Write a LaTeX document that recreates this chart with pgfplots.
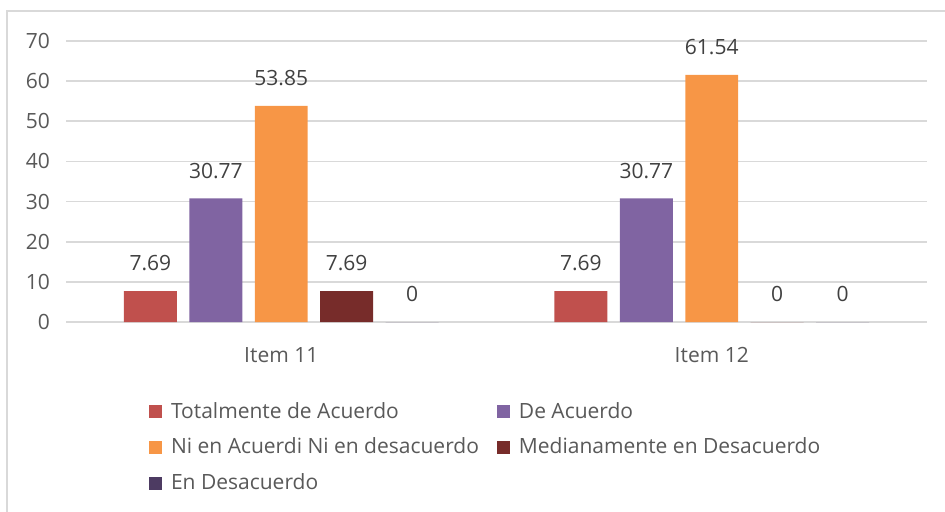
\documentclass[border=0pt]{standalone}
\usepackage{pgfplots}
\pgfplotsset{compat=1.18}
\usepackage{fontspec}
\setmainfont{Open Sans}
\definecolor{cTot}{HTML}{C0504D}
\definecolor{cDe}{HTML}{8064A2}
\definecolor{cNi}{HTML}{F79646}
\definecolor{cMed}{HTML}{772C2A}
\definecolor{cEn}{HTML}{4D3B62}
\definecolor{gridc}{HTML}{D9D9D9}
\definecolor{txt}{HTML}{595959}
\begin{document}
\begin{tikzpicture}
\path[use as bounding box] (0,0) rectangle (472.5pt,255.5pt);
\draw[gridc, line width=1pt] (3.5pt,-20pt) -- (3.5pt,250pt) -- (490pt,250pt);
\begin{axis}[
    at={(33pt,94.5pt)}, anchor=south west,
    scale only axis, width=430.5pt, height=140.5pt,
    font=\fontsize{10.5}{12}\selectfont,
    /pgf/number format/assume math mode=true,
    ybar=0pt, bar width=0.123,
    xmin=-0.5, xmax=1.5, ymin=0, ymax=70,
    xtick={0,1}, xticklabels={Item 11, Item 12},
    ytick={0,10,...,70},
    axis line style={draw=none},
    major tick length=0pt,
    ymajorgrids, grid style={gridc, line width=0.8pt},
    tick label style={text=txt},
    yticklabel style={xshift=-4.5pt},
    xticklabel style={yshift=-9pt},
    nodes near coords,
    nodes near coords style={text=black!75, yshift=6.5pt,
        /pgf/number format/.cd, fixed, precision=2},
    legend columns=2,
    legend cell align=left,
    legend style={draw=none, at={(0.089,-0.255)}, anchor=north west,
        text=txt, row sep=4.5pt,
        /tikz/every odd column/.append style={column sep=2.5pt},
        /tikz/every even column/.append style={column sep=7pt}},
    legend image code/.code={\fill[#1] (0pt,-3.25pt) rectangle (6.5pt,3.25pt);},
]
\addplot[fill=cTot, draw=none, bar shift=-0.304] coordinates {(0,7.69) (1,7.69)};
\addlegendentry{Totalmente de Acuerdo}
\addplot[fill=cDe, draw=none, bar shift=-0.152] coordinates {(0,30.77) (1,30.77)};
\addlegendentry{De Acuerdo}
\addplot[fill=cNi, draw=none, bar shift=0] coordinates {(0,53.85) (1,61.54)};
\addlegendentry{Ni en Acuerdi Ni en desacuerdo}
\addplot[fill=cMed, draw=none, bar shift=0.152] coordinates {(0,7.69) (1,0)};
\addlegendentry{Medianamente en Desacuerdo}
\addplot[fill=cEn, draw=none, bar shift=0.304] coordinates {(0,0) (1,0)};
\addlegendentry{En Desacuerdo}
\end{axis}
\end{tikzpicture}
\end{document}
